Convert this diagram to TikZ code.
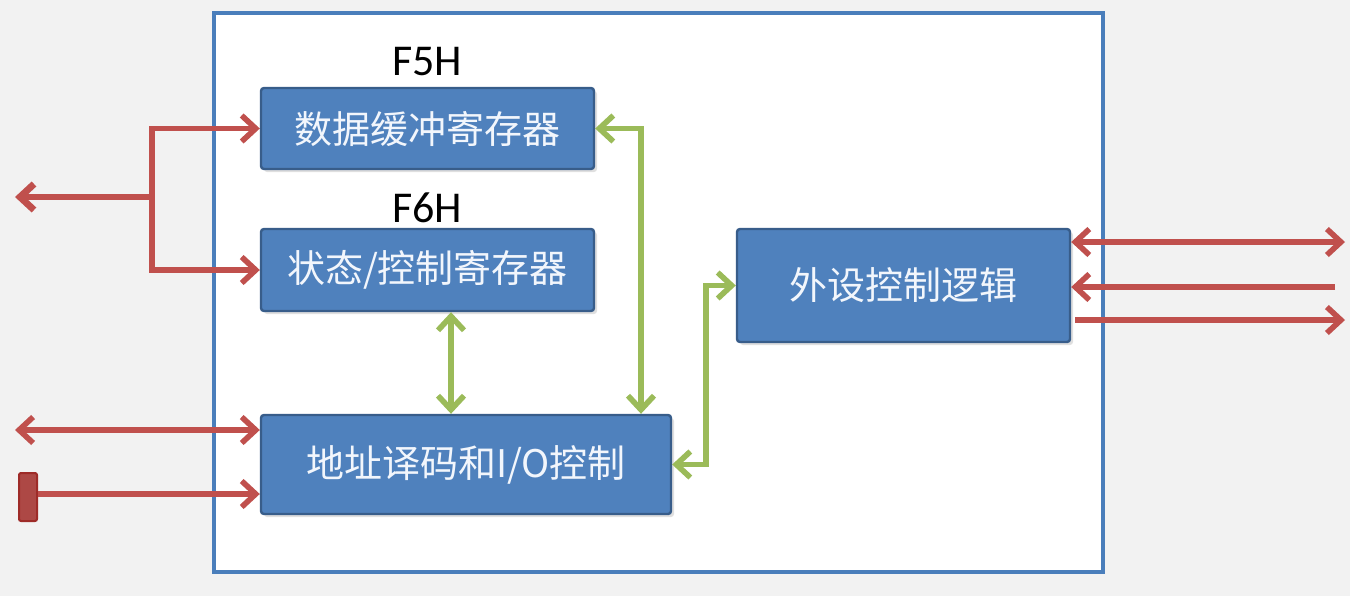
\documentclass[tikz,border=0pt]{standalone}
\usepackage{fontspec}
\setmainfont{Noto Sans CJK SC}
\newfontfamily\latinf{Carlito}
\usetikzlibrary{arrows.meta,shadows}
\definecolor{bgray}{HTML}{F2F2F2}
\definecolor{frameblue}{HTML}{4A7EBB}
\definecolor{boxfill}{HTML}{4F81BD}
\definecolor{boxline}{HTML}{385D8A}
\definecolor{redc}{HTML}{C0504D}
\definecolor{darkred}{HTML}{9E2B28}
\definecolor{greenc}{HTML}{9BBB59}
\definecolor{txtc}{HTML}{F2F6FC}
\tikzset{
  blockbox/.style={draw=boxline, line width=1.2pt, fill=boxfill, rounded corners=1.5pt,
    text=txtc, font=\fontsize{19}{22}\selectfont, inner sep=0pt,
    drop shadow={shadow xshift=1.5pt, shadow yshift=-1.5pt, opacity=0.25}},
  addrlabel/.style={font=\latinf\fontsize{22}{24}\selectfont, text=black},
  tipA/.tip={Straight Barb[length=7pt,width=13pt]},
  redarr/.style={draw=redc, line width=2.8pt, arrows={-tipA}},
  redboth/.style={draw=redc, line width=2.8pt, arrows={tipA-tipA}},
  greenboth/.style={draw=greenc, line width=2.8pt, arrows={tipA-tipA}},
}
\begin{document}
\begin{tikzpicture}[x=0.5pt,y=-0.5pt]
\useasboundingbox (0,0) rectangle (1350,596);
\fill[bgray] (0,0) rectangle (1350,596);
\draw[frameblue, line width=1.6pt, fill=white] (214,13) rectangle (1103,572);

% coordinates
\coordinate (br) at (152,197);
\coordinate (lout) at (15,197);
\coordinate (l2) at (15,430);
\coordinate (p1) at (38,494);
\coordinate (r1) at (1345,242);
\coordinate (r2) at (1335,287);
\coordinate (r3s) at (1075,320);
\coordinate (r3) at (1345,320);
\coordinate (gx) at (641,0);
\coordinate (gs) at (451,0);
\coordinate (gv) at (706,0);

% blocks
\node[blockbox, minimum width=166.5pt, minimum height=40.5pt] (buf) at (427.5,128.5) {数据缓冲寄存器};
\node[blockbox, minimum width=166.5pt, minimum height=41pt] (stat) at (427.5,270) {状态/控制寄存器};
\node[blockbox, minimum width=205pt, minimum height=49.5pt] (addr) at (466,464.5) {地址译码和I/O控制};
\node[blockbox, minimum width=166.5pt, minimum height=56.5pt] (per) at (903.5,285.5) {外设控制逻辑};
\node[draw=darkred, fill=redc!90!black, line width=1pt, rounded corners=1pt, minimum width=9pt, minimum height=24pt, inner sep=0pt] (pin) at (28,497) {};

\node[addrlabel] (f5) at (427,62) {F5H};
\node[addrlabel] (f6) at (427,208) {F6H};

% red connectors
\draw[redarr, line width=3.4pt] (br) -- (lout);
\draw[redarr] (br) |- (buf.west);
\draw[redarr] (br) |- (stat.west);
\draw[redboth] (l2) -- (l2 -| addr.west);
\draw[redarr] (p1) -- (p1 -| addr.west);
\draw[redboth] (r1 -| per.east) -- (r1);
\draw[redarr] (r2) -- (r2 -| per.east);
\draw[redarr] (r3s) -- (r3);

% green connectors
\draw[greenboth] (buf.east) -| (gx |- addr.north);
\draw[greenboth] (gs |- stat.south) -- (gs |- addr.north);
\draw[greenboth] (addr.east) -- (addr.east -| gv) |- (per.west);
\end{tikzpicture}
\end{document}
